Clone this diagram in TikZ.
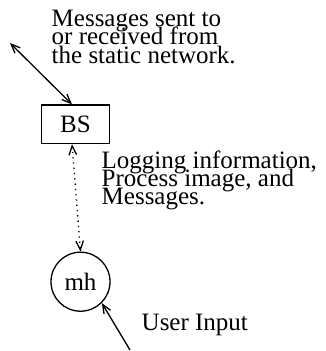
\documentclass[tikz,border=0pt]{standalone}
\usepackage{fontspec}
\setmainfont{Liberation Serif}
\usetikzlibrary{arrows.meta}
\begin{document}
\begin{tikzpicture}[x=1pt,y=-1pt,
  lbl/.style={anchor=base west,inner sep=0pt,font=\fontsize{25}{18}\selectfont},
  conn/.style={line width=1.3pt},
  >={Straight Barb[length=9pt,width=7.5pt]}]
\useasboundingbox (0,0) rectangle (326,351);
% text blocks
\node[lbl] (m1) at (51.5,26.6) {Messages sent to};
\node[lbl] (m2) at (51.5,44.9) {or received from};
\node[lbl] (m3) at (51.5,63.2) {the static network.};
\node[lbl] (l1) at (101.5,168.3) {Logging information,};
\node[lbl] (l2) at (101.5,186.5) {Process image, and};
\node[lbl] (l3) at (101.5,204) {Messages.};
\node[lbl] (uin) at (141.5,330.5) {User Input};
% nodes
\node[draw,conn,minimum width=68pt,minimum height=38.5pt,inner sep=0pt,
      font=\fontsize{25}{18}\selectfont] (bs) at (75.5,124.3) {BS};
\node[draw,conn,circle,minimum size=59pt,inner sep=0pt,
      font=\fontsize{25}{18}\selectfont] (mh) at (80.5,281.7) {mh};
% connectors
\coordinate (net) at (10,43);
\coordinate (usr) at (130,350);
\draw[conn,<->] (net) -- ([xshift=-3.5pt]bs.north);
\draw[conn,<->,dash pattern=on 1.3pt off 4pt] ([xshift=-3.5pt]bs.south) -- (mh.north);
\draw[conn,->] (usr) -- (mh.-45);
\end{tikzpicture}
\end{document}
